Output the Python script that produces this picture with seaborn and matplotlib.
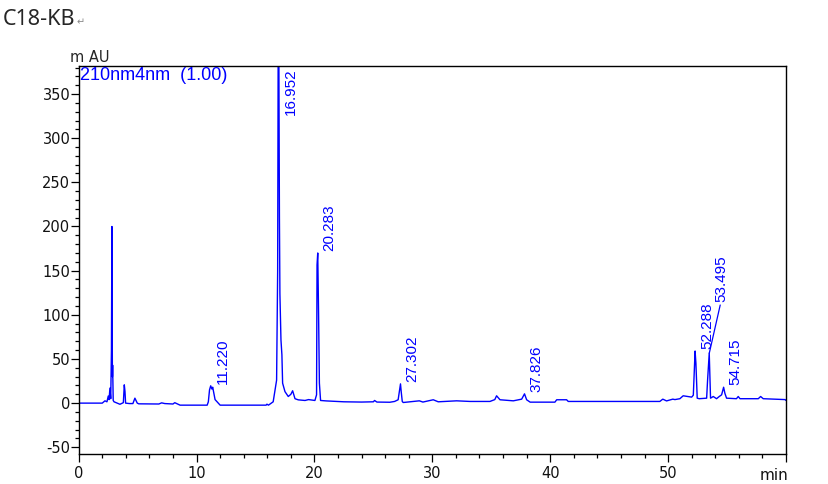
import pandas as pd
import seaborn as sns
import matplotlib.pyplot as plt
from matplotlib.ticker import MultipleLocator

# Chromatogram trace (time in min, signal in mAU)
time_min = ([0, 2.0, 2.23, 2.4, 2.51, 2.58, 2.65, 2.72, 2.78, 2.82, 2.86, 2.88,
             2.93, 3.0, 3.5, 3.79, 3.84, 3.87, 3.93, 3.98, 4.3, 4.6, 4.77, 4.97]
            + [5.1, 6.8, 7.04, 7.3, 8.0, 8.15, 8.6, 10.9, 11.0, 11.1, 11.2, 11.3,
               11.37, 11.57, 12.0, 15.9, 15.97, 16.1, 16.5]
            + [16.79, 16.88, 16.93, 16.97, 17.03, 17.07, 17.16, 17.24, 17.3, 17.5,
               17.78, 18.0, 18.15, 18.35, 18.63, 19.2, 19.5, 20.04, 20.18, 20.22,
               20.28, 20.35, 20.42, 20.52]
            + [21.0, 22.5, 24.0, 25.0, 25.1, 25.3, 26.4, 26.8, 27.1, 27.30, 27.36,
               27.45, 27.53, 28.9, 29.2, 30.08, 30.5, 32.06, 33.2, 34.89, 35.3,
               35.45, 35.74, 36.87, 37.58, 37.82, 38.0, 38.3, 40.4, 40.55, 41.39, 41.53]
            + [49.3, 49.55, 49.87, 50.4, 50.58, 51.0, 51.28, 52.0, 52.14, 52.29,
               52.36, 52.47, 52.64, 53.27, 53.35, 53.49, 53.6, 53.83, 54.11, 54.34,
               54.54, 54.71, 54.82, 54.96, 55.8, 55.95, 56.1, 57.65, 57.85, 58.07,
               59.93, 60])
signal_mau = ([0, 0, 2.6, 1.5, 8, 4, 17, 5, 60, 200, 30, 43,
               3, 1.5, -1.3, 0.5, 12, 20.7, 13, 0, -0.5, -0.5, 5.6, 0]
              + [-0.8, -1, 0.3, -0.5, -1, 0.5, -2.3, -2.3, 1.5, 15, 19.6, 16,
                 18, 4, -2.3, -2.3, -1.2, -2.3, 1.5]
              + [26, 150, 440, 440, 210, 124, 71.6, 54.7, 22.6, 13,
                 7.5, 10, 14, 5, 3.7, 3, 4, 3, 9.4, 156.5,
                 170, 102, 22.6, 3]
              + [2.5, 1.5, 1.2, 1.5, 3, 1.2, 1, 1.9, 3.8, 21.8, 13,
                 1.9, 0.7, 2.6, 1.2, 3.8, 1.5, 2.6, 1.9, 1.9, 4,
                 8.3, 3.8, 2.6, 4.5, 10.5, 3.8, 1.1, 1.1, 3.8, 3.8, 1.9]
              + [1.9, 4.5, 2.5, 4.5, 4, 5, 8.3, 6.8, 9, 59,
                 45, 5.6, 5, 5.6, 26, 56.6, 5.6, 7.5, 5, 7.5,
                 9.4, 18, 11, 5.6, 5, 7.5, 5, 5, 7.5, 5,
                 4, 3])

# Labelled peaks: retention time and peak height
peak_rt = [11.220, 16.952, 20.283, 27.302, 37.826, 52.288, 53.495, 54.715]
peak_height = [19.6, 440, 170, 21.8, 10.5, 59, 56.6, 18]

x_ticks = [0, 10, 20, 30, 40, 50, 60]
x_tick_labels = ['0', '10', '20', '30', '40', '50', '']
y_ticks = [-50, 0, 50, 100, 150, 200, 250, 300, 350]

df = pd.DataFrame({'time': time_min, 'signal': signal_mau})

sns.set_style('ticks')
plt.rcParams['font.family'] = ['DejaVu Sans']
plt.rcParams['axes.unicode_minus'] = False

fig = plt.figure(figsize=(8.29, 4.84), dpi=100)
ax = fig.add_axes([0.0949, 0.062, 0.8532, 0.8016])

blue = '#0000ff'
sns.lineplot(data=df, x='time', y='signal', ax=ax, color=blue, lw=1.0,
             estimator=None, sort=False)

y_min, y_max = -57.6, 381.7
ax.set_xlim(0, 60)
ax.set_ylim(y_min, y_max)
ax.set_xlabel('')
ax.set_ylabel('')

ax.set_xticks(x_ticks)
ax.set_xticklabels(x_tick_labels)
ax.set_yticks(y_ticks)
ax.xaxis.set_minor_locator(MultipleLocator(2))
ax.yaxis.set_minor_locator(MultipleLocator(10))
ax.tick_params(which='major', length=5.5, width=0.9, color='black', labelsize=10.5,
               labelcolor='#111111')
ax.tick_params(which='minor', length=3, width=0.9, color='black')
ax.tick_params(axis='y', which='major', pad=0.5)
ax.tick_params(axis='x', which='major', pad=3)
for sp in ax.spines.values():
    sp.set_visible(True)
    sp.set_color('black')
    sp.set_linewidth(1.0)

# peak labels
for rt, h in zip(peak_rt, peak_height):
    lab = f"{rt:.3f}"
    kw = dict(textcoords='offset points', rotation=90, ha='center', color=blue,
              family='Liberation Sans', fontsize=11, annotation_clip=False)
    if h > y_max:
        ax.annotate(lab, xy=(rt, y_max), xytext=(9, -1.5), va='top', **kw)
    elif rt == 53.495:
        ax.annotate(lab, xy=(rt, h), xytext=(8.4, 37), va='bottom',
                    arrowprops=dict(arrowstyle='-', color=blue, lw=0.9,
                                    shrinkA=0, shrinkB=0, relpos=(0.5, 0)), **kw)
    else:
        ax.annotate(lab, xy=(rt, h), xytext=(8.6, 1.5), va='bottom', **kw)

ax.text(0.002, 0.998, '210nm4nm  (1.00)', transform=ax.transAxes, va='top',
        ha='left', color=blue, family='Liberation Sans', fontsize=13)
ax.text(1.004, -0.036, 'min', transform=ax.transAxes, va='top', ha='right',
        fontsize=11, color='#111111')

fig.text(70 / 829, 1 - 62 / 484, 'm AU', fontsize=10.5, va='baseline', ha='left')
fig.text(3 / 829, 1 - 25 / 484, 'C18-KB', fontsize=15.5, family='Noto Sans',
         va='baseline', ha='left')
fig.text(77 / 829, 1 - 25 / 484, '\u21b5', fontsize=7, color='#888888',
         va='baseline', ha='left')

fig.savefig('out.png', dpi=100)
